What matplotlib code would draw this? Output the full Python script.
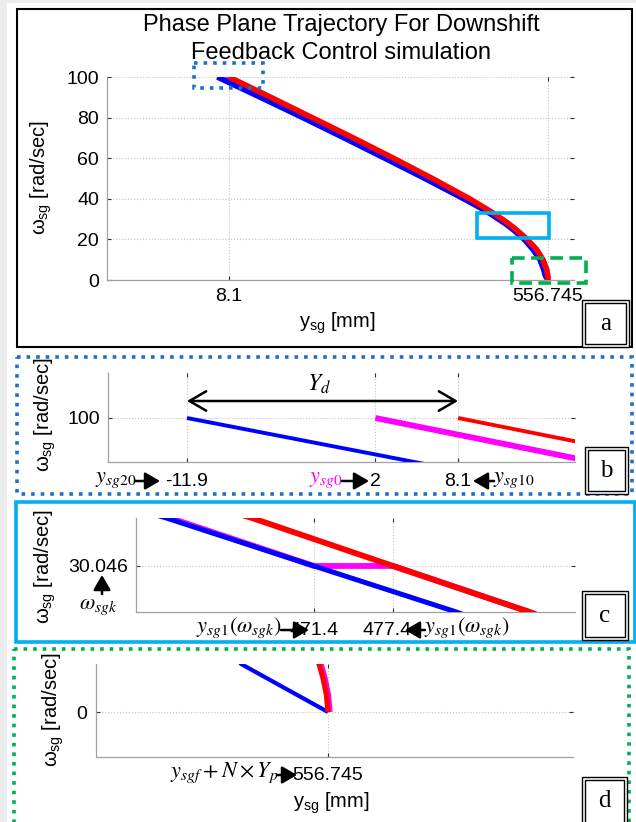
import numpy as np
import matplotlib.pyplot as plt
from matplotlib.patches import Rectangle
from matplotlib.transforms import ScaledTranslation

plt.rcParams['font.family'] = ['Liberation Sans', 'DejaVu Sans']
plt.rcParams['mathtext.fontset'] = 'stix'

# phase plane trajectories, omega_sg [rad/sec] vs y_sg [mm]
w_blue = [100, 90, 80, 70, 60, 50, 40, 35, 32.2, 30.046, 28.0, 25, 20, 15, 10, 5, 2.0, 0]
y_blue = [-11.9, 62, 135, 206, 276, 345, 412, 444, 460.2, 471.4, 482.1, 496, 516, 531, 543, 549.5, 552.4, 556.745]
w_red = [100, 90, 80, 70, 60, 50, 40, 35, 32.2, 30.046, 28.0, 25, 20, 15, 10, 5, 2.0, 1.4, 0.7, 0]
y_red = [8.1, 80, 151, 222, 291, 358, 422, 451, 466.7, 477.4, 487.65, 501, 521, 537, 548, 554.5, 556.3, 556.5, 556.67, 556.745]
w_mag = [100, 90, 80, 70, 60, 50, 40, 35, 32.2, 30.046, 30.046, 28.0, 25, 20, 15, 10, 5, 2.0, 1.4, 0.7, 0]
y_mag = [2, 73, 145, 214, 282, 349, 414, 445, 460.5, 471.4, 477.4, 487.65, 501, 521, 537, 548, 554.6, 556.4, 556.6, 556.77, 556.845]

# ticks of each panel
a_xticks = [8.1, 556.745]
a_xlabels = ['8.1', '556.745']
a_yticks = [0, 20, 40, 60, 80, 100]
b_xticks = [-11.9, 2, 8.1]
b_xlabels = ['-11.9', '2', '8.1']
b_yticks = [100]
c_xticks = [471.4, 477.4]
c_xlabels = ['471.4', '477.4']
c_yticks = [30.046]
d_xticks = [556.745]
d_xlabels = ['556.745']
d_yticks = [0]

W, H = 636, 822
fig = plt.figure(figsize=(W / 100, H / 100), dpi=100)

TICK_FS = 14
LAB_FS = 14.5
MATH_FS = 16


def px_axes(l, t, r, b):
    return fig.add_axes([l / W, 1 - b / H, (r - l) / W, (b - t) / H])


def style(ax, xt, xl, yt, xpad, ypad):
    for s in ['top', 'right']:
        ax.spines[s].set_visible(False)
    for s in ['left', 'bottom']:
        ax.spines[s].set_color('#a0a0a0')
        ax.spines[s].set_linewidth(0.9)
    ax.set_xticks(xt)
    ax.set_xticklabels(xl)
    ax.set_yticks(yt)
    ax.grid(True, color='#c4c4c4', ls=':', lw=0.8)
    ax.tick_params(direction='in', length=3, width=0.8, color='#303030',
                   top=True, right=True, labelsize=TICK_FS)
    ax.tick_params(axis='x', pad=xpad)
    ax.tick_params(axis='y', pad=ypad)


def curves(ax, lw_b, lw_r, lw_m):
    ax.plot(y_mag, w_mag, color='#ff00ff', lw=lw_m, solid_capstyle='butt', zorder=2)
    ax.plot(y_blue, w_blue, color='#0000ff', lw=lw_b, solid_capstyle='butt', zorder=3)
    ax.plot(y_red, w_red, color='#ff0000', lw=lw_r, solid_capstyle='butt', zorder=4)


# panel a
ax_a = px_axes(107, 77, 574, 280)
curves(ax_a, 4, 4, 4)
ax_a.set_xlim(-201.7, 601.5)
ax_a.set_ylim(0, 100)
style(ax_a, a_xticks, a_xlabels, a_yticks, 5.5, 5.8)

# panel b
ax_b = px_axes(108, 373, 575, 462)
curves(ax_b, 2.8, 2.8, 4.2)
ax_b.set_xlim(-17.73, 16.73)
ax_b.set_ylim(97.73, 102.32)
style(ax_b, b_xticks, b_xlabels, b_yticks, 8, 5.8)

# panel c
ax_c = px_axes(136, 518, 575, 612)
curves(ax_c, 3.6, 4.2, 4.2)
ax_c.set_xlim(457.9, 491.2)
ax_c.set_ylim(27.98, 32.2)
style(ax_c, c_xticks, c_xlabels, c_yticks, 7.5, 5.8)
lab = ax_c.get_xticklabels()[1]
lab.set_transform(lab.get_transform() + ScaledTranslation(-6 / 100, 0, fig.dpi_scale_trans))

# panel d
ax_d = px_axes(96, 664, 573, 757)
curves(ax_d, 3, 3.8, 3.8)
ax_d.set_xlim(545.145, 568.995)
ax_d.set_ylim(-1.875, 2.0)
style(ax_d, d_xticks, d_xlabels, d_yticks, 7.5, 6.5)

# overlay in pixel coordinates for frames, labels and arrows
ov = fig.add_axes([0, 0, 1, 1], zorder=10)
ov.set_xlim(0, W)
ov.set_ylim(H, 0)
ov.axis('off')
ov.patch.set_visible(False)

# page edge
ov.add_patch(Rectangle((0, 0), 7, H, facecolor='#ececec', edgecolor='none'))
ov.add_patch(Rectangle((0, 0), W, 3, facecolor='#ececec', edgecolor='none'))


def rect(x0, y0, x1, y1, **kw):
    ov.add_patch(Rectangle((x0, y0), x1 - x0, y1 - y0, fill=False, **kw))


def label_box(x0, y0, x1, y1, s, yc=None):
    ov.add_patch(Rectangle((x0, y0), x1 - x0, y1 - y0, facecolor='white',
                           edgecolor='k', lw=1))
    rect(x0 + 3, y0 + 3, x1 - 3, y1 - 3, edgecolor='k', lw=1)
    if yc is None:
        yc = (y0 + y1) / 2
    ov.text((x0 + x1) / 2, yc, s, ha='center', va='center',
            fontsize=18, family='Liberation Serif')


def arrow(x0, y0, x1, y1):
    ov.annotate('', xy=(x1, y1), xytext=(x0, y0),
                arrowprops=dict(arrowstyle='-|>,head_length=0.6,head_width=0.35',
                                mutation_scale=15, lw=1.8, color='k',
                                shrinkA=0, shrinkB=0))


# frames
rect(17, 9, 632, 347, edgecolor='k', lw=1.5)
rect(194, 63, 263, 88, edgecolor='#1f6fc6', lw=2.6, ls=':')
rect(477, 213, 549, 238, edgecolor='#00b0f0', lw=2.6)
rect(512, 258, 586, 283, edgecolor='#00b050', lw=2.6, ls=(0, (3.5, 1.8)))
rect(17, 357, 632, 494, edgecolor='#1f6fc6', lw=2.6, ls=':')
rect(16, 502, 635, 642, edgecolor='#00b0f0', lw=2.6)
rect(14, 649, 629, 840, edgecolor='#00b050', lw=2.6, ls=':')

label_box(582, 300, 629, 347, 'a')
label_box(585, 447, 628, 494, 'b')
label_box(582, 591, 628, 640, 'c')
label_box(582, 777, 627, 840, 'd', yc=801)

# titles and axis labels
ov.text(341, 25, 'Phase Plane Trajectory For Downshift', ha='center', va='center', fontsize=17)
ov.text(341, 53, 'Feedback Control simulation', ha='center', va='center', fontsize=17)
ylab = r'$\mathregular{\omega_{sg}}$ [rad/sec]'
xlab = r'$\mathregular{y_{sg}}$ [mm]'
ov.text(41, 178, ylab, rotation=90, ha='center', va='center', fontsize=LAB_FS)
ov.text(45, 415, ylab, rotation=90, ha='center', va='center', fontsize=LAB_FS)
ov.text(45, 567, ylab, rotation=90, ha='center', va='center', fontsize=LAB_FS)
ov.text(53, 710, ylab, rotation=90, ha='center', va='center', fontsize=LAB_FS)
ov.text(337, 323, xlab, ha='center', va='center', fontsize=LAB_FS)
ov.text(331, 803, xlab, ha='center', va='center', fontsize=LAB_FS)

# panel b annotations
ov.annotate('', xy=(187, 401), xytext=(458, 401),
            arrowprops=dict(arrowstyle='<->,head_length=0.6,head_width=0.35',
                            mutation_scale=20, lw=1.8, color='k', shrinkA=0, shrinkB=0))
ov.text(319, 384, r'$Y_d$', ha='center', va='center', fontsize=17)
ov.text(136, 479, r'$y_{sg20}$', ha='right', va='center', fontsize=MATH_FS)
arrow(135, 481, 160, 481)
ov.text(343, 479, r'$y_{sg0}$', ha='right', va='center', fontsize=MATH_FS, color='#ff00ff')
arrow(342, 481, 369, 481)
arrow(494, 481, 473, 481)
ov.text(493, 479, r'$y_{sg10}$', ha='left', va='center', fontsize=MATH_FS)

# panel c annotations
ov.text(282, 628, r'$y_{sg1}(\omega_{sgk})$', ha='right', va='center', fontsize=MATH_FS)
arrow(281, 630, 309, 630)
arrow(425, 630, 405, 630)
ov.text(424, 628, r'$y_{sg1}(\omega_{sgk})$', ha='left', va='center', fontsize=MATH_FS)
arrow(102, 594, 102, 575)
ov.text(98, 606, r'$\omega_{sgk}$', ha='center', va='center', fontsize=MATH_FS)

# panel d annotations
ov.text(278, 773, r'$y_{sgf} + N \times Y_p$', ha='right', va='center', fontsize=MATH_FS)
arrow(277, 775, 297, 775)

fig.savefig('out.png', dpi=100)
